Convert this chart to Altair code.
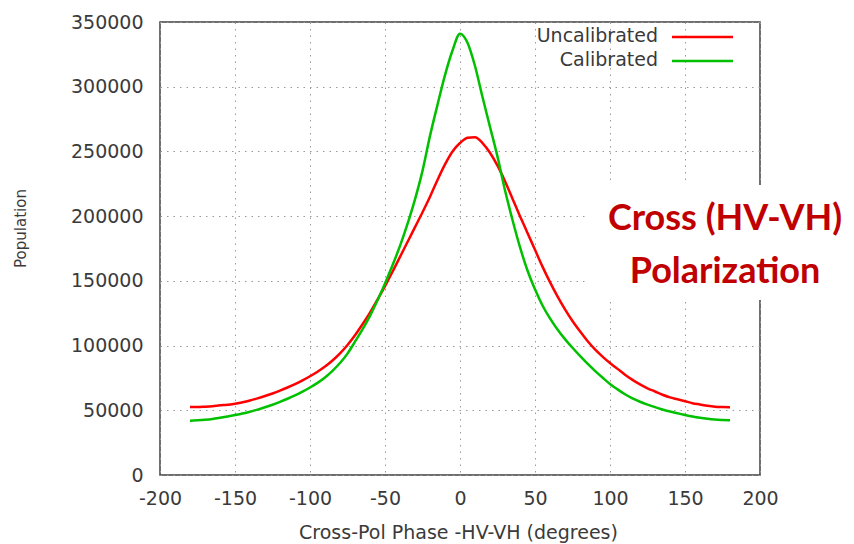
import altair as alt
import pandas as pd

# ---------------- data ----------------
phase = list(range(-180, 181, 5))

uncalibrated = [
    52500, 52500, 52800, 53200, 53800, 54300, 55000, 56200, 57600, 59200,
    61000, 63000, 65200, 67600, 70200, 73100, 76300, 79800, 83800, 88500,
    94000, 100500, 108000, 116500, 125500, 135500, 146000, 157000, 168500, 180000,
    191500, 203000, 215000, 228000, 240000, 250000, 256500, 260500, 261000, 256500,
    249000, 239000, 227000, 213500, 200000, 187000, 174000, 161000, 149000, 138000,
    128000, 119000, 111000, 103500, 97000, 91500, 86500, 82000, 77500, 73500,
    70000, 67000, 64500, 62000, 60000, 58500, 57000, 55500, 54500, 53500,
    52800, 52500, 52300,
]

calibrated = [
    42000, 42300, 42700, 43300, 44200, 45200, 46300, 47500, 48900, 50500,
    52300, 54300, 56500, 58900, 61500, 64400, 67600, 71200, 75400, 80500,
    86500, 93800, 103000, 112500, 123000, 135000, 148000, 162000, 177000, 194000,
    213000, 235000, 262000, 286000, 309000, 328000, 341000, 334000, 316000, 292000,
    269000, 246000, 220000, 197000, 176000, 158000, 143500, 131000, 121000, 112500,
    105000, 98300, 92000, 86000, 80500, 75300, 70300, 66200, 62400, 59200,
    56600, 54400, 52400, 50600, 49000, 47700, 46400, 45200, 44200, 43400,
    42800, 42500, 42300,
]

series_names = ["Uncalibrated", "Calibrated"]
series_colors = ["#ff0000", "#00c000"]
x_ticks = [-200, -150, -100, -50, 0, 50, 100, 150, 200]
y_ticks = [0, 50000, 100000, 150000, 200000, 250000, 300000, 350000]
note_lines = ["Cross (HV-VH)", "Polarization"]

# ---------------- build table ----------------
rows = []
for name, vals in zip(series_names, [uncalibrated, calibrated]):
    for p, v in zip(phase, vals):
        rows.append({"phase": p, "population": v, "series": name})
df = pd.DataFrame(rows)

W, H = 600, 453
FONT = "DejaVu Sans"
TXT = "#3a3a3a"

color_scale = alt.Scale(domain=series_names, range=series_colors)

lines = alt.Chart(df).mark_line(strokeWidth=2.5, interpolate="monotone").encode(
    x=alt.X("phase:Q",
            scale=alt.Scale(domain=[-200, 200], nice=False, zero=False),
            axis=alt.Axis(values=x_ticks, grid=True, ticks=False,
                          domain=False, labelPadding=14,
                          labelFlush=False, labelOverlap=False,
                          labelExpr="datum.value < 0 ? '-' + abs(datum.value) : '' + datum.value",
                          title="Cross-Pol Phase -HV-VH (degrees)",
                          titleX=298, titleY=57, titleBaseline="middle",
                          titleAlign="center", titleFontSize=19)),
    y=alt.Y("population:Q",
            scale=alt.Scale(domain=[0, 350000], nice=False),
            axis=alt.Axis(values=y_ticks, format="d", grid=True, ticks=False,
                          domain=False, labelPadding=17,
                          labelFlush=False, labelOverlap=False,
                          title="Population",
                          titleX=-140, titleY=206, titleAngle=270,
                          titleBaseline="middle", titleAlign="center",
                          titleFontSize=15)),
    color=alt.Color("series:N", scale=color_scale, legend=None),
    order=alt.Order("phase:Q"),
    detail="series:N",
)

one = pd.DataFrame({"k": [0]})

# gnuplot-style key
key_layers = []
for i, (name, col) in enumerate(zip(series_names, series_colors)):
    ty = 14 + i * 24
    key_layers.append(
        alt.Chart(one).mark_text(align="right", baseline="middle", font=FONT,
                                 fontSize=19, color=TXT, text=name).encode(
            x=alt.value(498), y=alt.value(ty))
    )
    key_layers.append(
        alt.Chart(one).mark_rule(color=col, strokeWidth=2.5).encode(
            x=alt.value(512), x2=alt.value(573), y=alt.value(ty + 1))
    )

# annotation box with text
box = alt.Chart(one).mark_rect(color="white").encode(
    x=alt.value(425), x2=alt.value(700), y=alt.value(163), y2=alt.value(278))

note_layers = []
for i, t in enumerate(note_lines):
    note_layers.append(
        alt.Chart(one).mark_text(align="center", baseline="middle", font="Lato",
                                 fontWeight="bold", fontSize=36, color="#c00000",
                                 text=t).encode(
            x=alt.value(565), y=alt.value(197 + i * 53))
    )

chart = alt.layer(lines, box, *key_layers, *note_layers).properties(
    width=W, height=H,
    autosize=alt.AutoSizeParams(type="none"),
    padding={"left": 160, "top": 22, "right": 94, "bottom": 69},
    background="white",
).configure_view(
    stroke="#404040", strokeWidth=1.5,
).configure_axis(
    labelFont=FONT, labelFontSize=19, labelColor=TXT,
    titleFont=FONT, titleFontWeight="normal", titleColor=TXT,
    gridColor="#9a9a9a", gridDash=[1.5, 5], gridWidth=1, gridOpacity=1,
)

chart.save("out.html", embed_options={"renderer": "svg", "actions": False})
